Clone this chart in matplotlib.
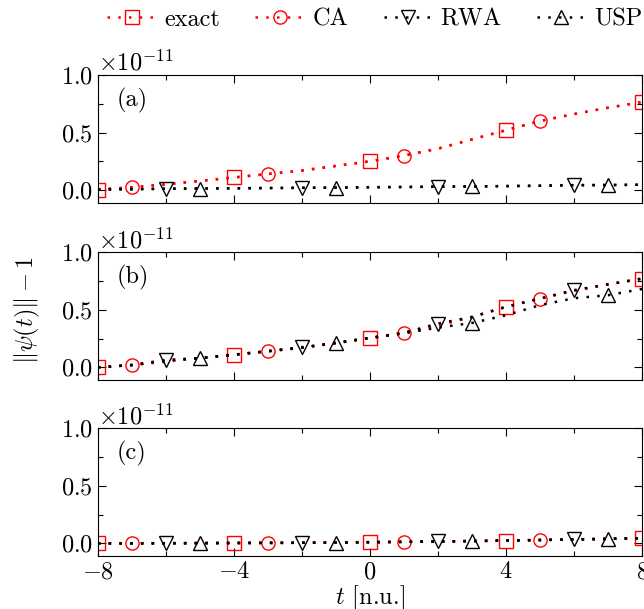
import matplotlib
matplotlib.use("Agg")
import matplotlib.pyplot as plt
from matplotlib.ticker import MultipleLocator, ScalarFormatter
import numpy as np

plt.rcParams.update({
    "font.family": "serif",
    "font.serif": ["cmr10"],
    "mathtext.fontset": "cm",
    "axes.formatter.use_mathtext": True,
    "font.size": 17.5,
    "axes.unicode_minus": True,
})

SCALE = 1e-11

t = [-8, -7, -6, -5, -4, -3, -2, -1, 0, 1, 2, 3, 4, 5, 6, 7, 8]

# panel (a)
a_exact = [0.005, 0.025, 0.05, 0.08, 0.11, 0.14, 0.17, 0.21, 0.25, 0.30, 0.36, 0.44, 0.52, 0.60, 0.66, 0.715, 0.765]
a_ca    = [0.005, 0.025, 0.05, 0.08, 0.11, 0.14, 0.17, 0.21, 0.25, 0.30, 0.36, 0.44, 0.52, 0.60, 0.66, 0.715, 0.765]
a_rwa   = [0.005, 0.008, 0.012, 0.014, 0.016, 0.018, 0.02, 0.022, 0.025, 0.027, 0.03, 0.032, 0.035, 0.038, 0.043, 0.044, 0.047]
a_usp   = [0.005, 0.008, 0.012, 0.014, 0.016, 0.018, 0.02, 0.022, 0.025, 0.027, 0.03, 0.032, 0.035, 0.038, 0.043, 0.044, 0.047]

# panel (b)
b_exact = [0.0, 0.02, 0.05, 0.08, 0.11, 0.14, 0.17, 0.21, 0.255, 0.30, 0.365, 0.437, 0.525, 0.597, 0.665, 0.72, 0.77]
b_ca    = [0.0, 0.02, 0.05, 0.08, 0.11, 0.14, 0.17, 0.21, 0.255, 0.30, 0.365, 0.437, 0.525, 0.597, 0.665, 0.72, 0.77]
b_rwa   = [0.0, 0.02, 0.064, 0.08, 0.11, 0.14, 0.175, 0.21, 0.255, 0.30, 0.38, 0.437, 0.525, 0.597, 0.67, 0.72, 0.77]
b_usp   = [0.0, 0.02, 0.06, 0.08, 0.11, 0.14, 0.17, 0.215, 0.255, 0.295, 0.345, 0.385, 0.452, 0.54, 0.60, 0.626, 0.68]

# panel (c)
c_exact = [0.0, 0.0, 0.001, 0.002, 0.003, 0.004, 0.005, 0.007, 0.01, 0.013, 0.016, 0.02, 0.024, 0.029, 0.034, 0.039, 0.045]
c_ca    = [0.0, 0.0, 0.001, 0.002, 0.003, 0.004, 0.005, 0.007, 0.01, 0.013, 0.016, 0.02, 0.024, 0.029, 0.034, 0.039, 0.045]
c_rwa   = [0.0, 0.0, 0.001, 0.002, 0.003, 0.004, 0.005, 0.007, 0.01, 0.013, 0.016, 0.02, 0.024, 0.029, 0.034, 0.039, 0.045]
c_usp   = [0.0, 0.0, 0.001, 0.002, 0.003, 0.004, 0.005, 0.007, 0.01, 0.013, 0.016, 0.02, 0.024, 0.029, 0.034, 0.039, 0.045]

labels = ["exact", "CA", "RWA", "USP"]
colors = ["#ff0000", "#ff0000", "black", "black"]
markers = ["s", "o", "v", "^"]
panels = [
    ("(a)", [a_exact, a_ca, a_rwa, a_usp]),
    ("(b)", [b_exact, b_ca, b_rwa, b_usp]),
    ("(c)", [c_exact, c_ca, c_rwa, c_usp]),
]

fig = plt.figure(figsize=(6.44, 6.09), dpi=100)
left, width, height = 0.152, 0.845, 0.210
bottoms = [0.667, 0.376, 0.087]

dotted = (0, (1.0, 3.3))
handles = []
axes = []
for i, (tag, series) in enumerate(panels):
    ax = fig.add_axes([left, bottoms[i], width, height])
    axes.append(ax)
    for k, (vals, lab, col, mk) in enumerate(zip(series, labels, colors, markers)):
        y = np.asarray(vals) * SCALE
        ln, = ax.plot(t, y, linestyle=dotted, linewidth=1.8, color=col,
                      marker=mk, markersize=9.5, markerfacecolor="none",
                      markeredgecolor=col, markeredgewidth=1.0,
                      markevery=(k, 4), label=lab)
        if i == 0:
            handles.append(ln)
    ax.set_xlim(-8, 8)
    ax.set_ylim(-0.11 * SCALE, 1.0 * SCALE)
    ax.xaxis.set_major_locator(MultipleLocator(4))
    ax.xaxis.set_minor_locator(MultipleLocator(2))
    ax.yaxis.set_major_locator(MultipleLocator(0.5 * SCALE))
    ax.yaxis.set_minor_locator(MultipleLocator(0.25 * SCALE))
    fmt = ScalarFormatter(useMathText=True)
    fmt.set_powerlimits((-11, -11))
    ax.yaxis.set_major_formatter(fmt)
    ax.tick_params(which="both", direction="in", top=True, right=True, width=0.8)
    ax.tick_params(which="major", length=5.5)
    ax.tick_params(which="minor", length=3.5)
    for sp in ax.spines.values():
        sp.set_linewidth(0.8)
    ax.text(0.035, 0.80, tag, transform=ax.transAxes, ha="left", va="center")
    if i < 2:
        ax.tick_params(labelbottom=False)

axes[2].set_xlabel(r"$t$ [n.u.]", labelpad=0)
fig.text(0.042, 0.49, r"$\|\psi(t)\|-1$", rotation=90, ha="center", va="center")

fig.legend(handles=handles, loc="center", bbox_to_anchor=(0.582, 0.968),
           ncol=4, frameon=False, numpoints=1, handlelength=2.0,
           handletextpad=0.35, columnspacing=1.45, borderaxespad=0, borderpad=0)

fig.savefig("out.png", dpi=100)
